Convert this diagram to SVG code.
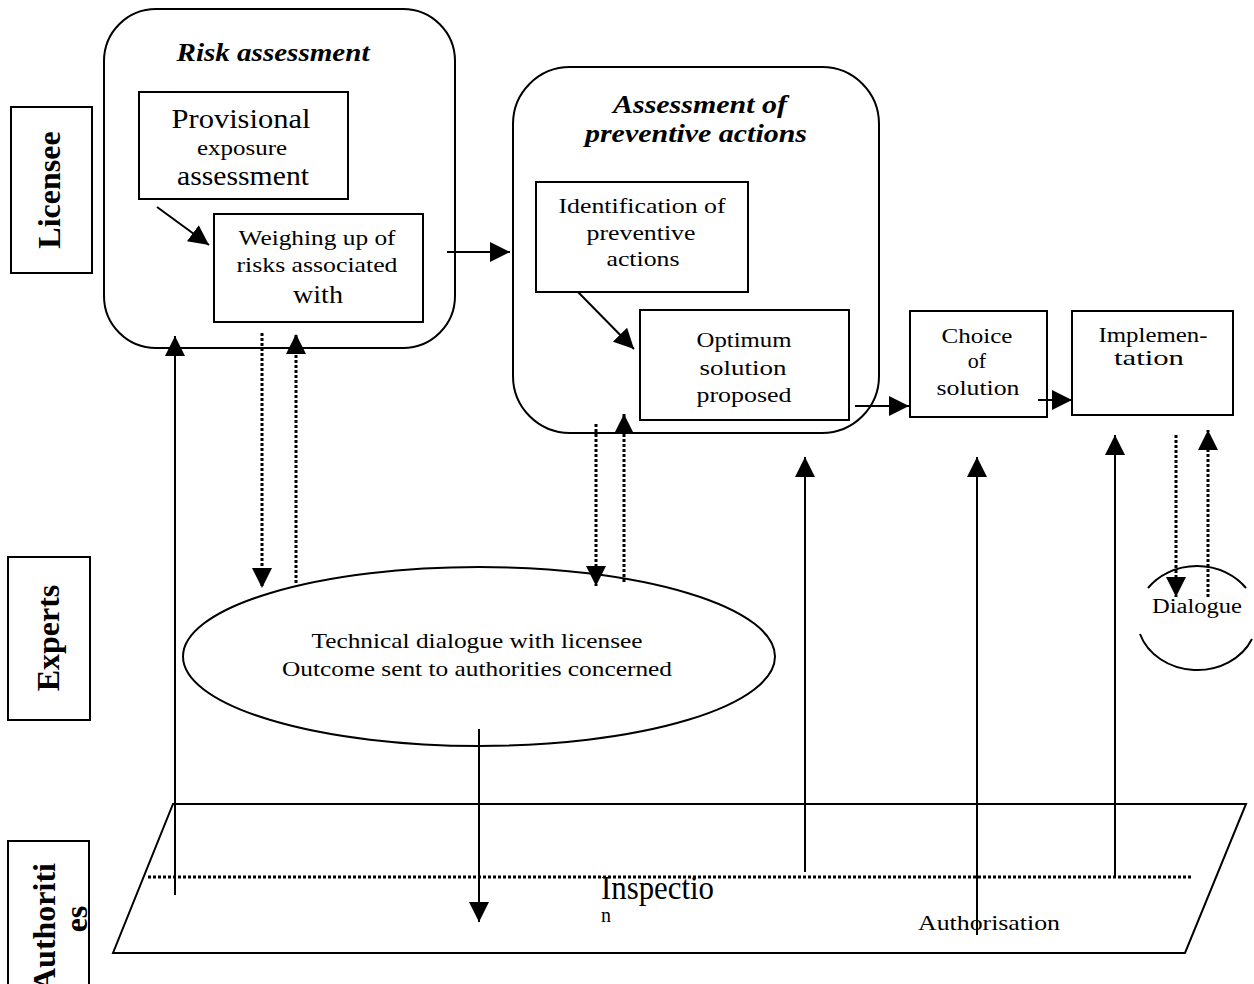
<svg xmlns="http://www.w3.org/2000/svg" width="1254" height="984" viewBox="0 0 1254 984">
<style>
text{font-family:"Liberation Serif","Times New Roman",serif;fill:#000}
.lane{font-size:32px;font-weight:bold}
.title{font-size:26px;font-weight:bold;font-style:italic}
.t22{font-size:22px}
.t20{font-size:20px}
.box{fill:#fff;stroke:#000;stroke-width:2}
.grp{fill:none;stroke:#000;stroke-width:2}
.c{stroke:#000;stroke-width:2;fill:none}
.s{marker-end:url(#ah)}
.d{stroke-width:3;stroke-dasharray:3 2}
</style>
<defs>
<marker id="ah" markerUnits="userSpaceOnUse" markerWidth="20" markerHeight="20" viewBox="0 0 20 20" refX="20" refY="10" orient="auto">
<path d="M0,0 L20,10 L0,20 z" fill="#000"/>
</marker>
</defs>
<rect width="1254" height="984" fill="#fff"/>

<g id="lane-licensee">
<rect class="box" x="11" y="107" width="81" height="166"/>
<text class="lane" text-anchor="middle" transform="translate(60,190) rotate(-90)">Licensee</text>
</g>
<g id="lane-experts">
<rect class="box" x="8" y="557" width="82" height="163"/>
<text class="lane" text-anchor="middle" transform="translate(59,638) rotate(-90)">Experts</text>
</g>
<g id="lane-authorities">
<rect class="box" x="8" y="841" width="81" height="160"/>
<text class="lane" text-anchor="middle" transform="translate(55,927) rotate(-90)">Authoriti</text>
<text class="lane" text-anchor="middle" transform="translate(87,919) rotate(-90)">es</text>
</g>

<g id="risk-assessment">
<rect class="grp" x="104" y="9" width="351" height="339" rx="52" ry="52"/>
<text class="title" x="273" y="61" text-anchor="middle" textLength="193" lengthAdjust="spacingAndGlyphs">Risk assessment</text>
</g>
<g id="provisional">
<rect class="box" x="139" y="92" width="209" height="107"/>
<text x="241" y="128" text-anchor="middle" style="font-size:28px" textLength="139" lengthAdjust="spacingAndGlyphs">Provisional</text>
<text x="242" y="155" text-anchor="middle" class="t20" textLength="90" lengthAdjust="spacingAndGlyphs">exposure</text>
<text x="243" y="185" text-anchor="middle" style="font-size:28px" textLength="132" lengthAdjust="spacingAndGlyphs">assessment</text>
</g>
<g id="weighing">
<rect class="box" x="214" y="214" width="209" height="108"/>
<text x="317" y="245" text-anchor="middle" style="font-size:21px" textLength="157" lengthAdjust="spacingAndGlyphs">Weighing up of</text>
<text x="317" y="272" text-anchor="middle" style="font-size:21px" textLength="161" lengthAdjust="spacingAndGlyphs">risks associated</text>
<text x="318" y="303" text-anchor="middle" style="font-size:26px" textLength="50" lengthAdjust="spacingAndGlyphs">with</text>
</g>

<g id="preventive-assessment">
<rect class="grp" x="513" y="67" width="366" height="366" rx="57" ry="57"/>
<text class="title" x="700" y="113" text-anchor="middle" textLength="174" lengthAdjust="spacingAndGlyphs">Assessment of</text>
<text class="title" x="696" y="142" text-anchor="middle" textLength="222" lengthAdjust="spacingAndGlyphs">preventive actions</text>
</g>
<g id="identification">
<rect class="box" x="536" y="182" width="212" height="110"/>
<text class="t22" x="642" y="213" text-anchor="middle" textLength="167" lengthAdjust="spacingAndGlyphs">Identification of</text>
<text class="t22" x="641" y="240" text-anchor="middle" textLength="109" lengthAdjust="spacingAndGlyphs">preventive</text>
<text class="t22" x="643" y="266" text-anchor="middle" textLength="73" lengthAdjust="spacingAndGlyphs">actions</text>
</g>
<g id="optimum">
<rect class="box" x="640" y="310" width="209" height="110"/>
<text class="t22" x="744" y="347" text-anchor="middle" textLength="95" lengthAdjust="spacingAndGlyphs">Optimum</text>
<text class="t22" x="743" y="375" text-anchor="middle" textLength="87" lengthAdjust="spacingAndGlyphs">solution</text>
<text class="t22" x="744" y="402" text-anchor="middle" textLength="95" lengthAdjust="spacingAndGlyphs">proposed</text>
</g>
<g id="choice">
<rect class="box" x="910" y="311" width="137" height="106"/>
<text class="t22" x="977" y="343" text-anchor="middle" textLength="71" lengthAdjust="spacingAndGlyphs">Choice</text>
<text class="t22" x="977" y="368" text-anchor="middle">of</text>
<text class="t22" x="978" y="395" text-anchor="middle" textLength="83" lengthAdjust="spacingAndGlyphs">solution</text>
</g>
<g id="implementation">
<rect class="box" x="1072" y="311" width="161" height="104"/>
<text class="t22" x="1153" y="342" text-anchor="middle" textLength="109" lengthAdjust="spacingAndGlyphs">Implemen-</text>
<text class="t22" x="1149" y="365" text-anchor="middle" textLength="70" lengthAdjust="spacingAndGlyphs">tation</text>
</g>

<g id="technical-dialogue">
<ellipse class="grp" cx="479" cy="656.5" rx="296" ry="89.5"/>
<text class="t22" x="477" y="648" text-anchor="middle" textLength="331" lengthAdjust="spacingAndGlyphs">Technical dialogue with licensee</text>
<text class="t22" x="477" y="676" text-anchor="middle" textLength="390" lengthAdjust="spacingAndGlyphs">Outcome sent to authorities concerned</text>
</g>
<g id="dialogue">
<path class="grp" d="M1148,588 A60,52 0 0 1 1246,588"/>
<path class="grp" d="M1140,634 A60,52 0 0 0 1252,639"/>
<text class="t20" x="1197" y="613" text-anchor="middle" textLength="90" lengthAdjust="spacingAndGlyphs">Dialogue</text>
</g>
<g id="authorities-platform">
<path class="grp" d="M173,804 L1246,804 L1185,953 L113,953 Z"/>
<text x="601" y="899" style="font-size:34px" textLength="113" lengthAdjust="spacingAndGlyphs">Inspectio</text>
<text x="601" y="922" style="font-size:20px">n</text>
<text x="918" y="930" class="t22" textLength="142" lengthAdjust="spacingAndGlyphs">Authorisation</text>
</g>

<g id="connectors">
<line class="c d" x1="148" y1="877" x2="1192" y2="877"/>
<line class="c s" x1="157" y1="207" x2="209" y2="245"/>
<line class="c s" x1="447" y1="252" x2="510" y2="252"/>
<line class="c s" x1="578" y1="292" x2="634" y2="349"/>
<line class="c s" x1="855" y1="406" x2="909" y2="406"/>
<line class="c s" x1="1038" y1="400" x2="1072" y2="400"/>
<line class="c s" x1="175" y1="895" x2="175" y2="336"/>
<line class="c d s" x1="262" y1="333" x2="262" y2="588"/>
<line class="c d s" x1="296" y1="583" x2="296" y2="334"/>
<line class="c d s" x1="596" y1="424" x2="596" y2="586"/>
<line class="c d s" x1="624" y1="582" x2="624" y2="414"/>
<line class="c s" x1="805" y1="872" x2="805" y2="457"/>
<line class="c s" x1="977" y1="935" x2="977" y2="457"/>
<line class="c s" x1="1115" y1="876" x2="1115" y2="435"/>
<line class="c d s" x1="1176" y1="435" x2="1176" y2="597"/>
<line class="c d s" x1="1208" y1="597" x2="1208" y2="430"/>
<line class="c s" x1="479" y1="729" x2="479" y2="922"/>
</g>
</svg>
